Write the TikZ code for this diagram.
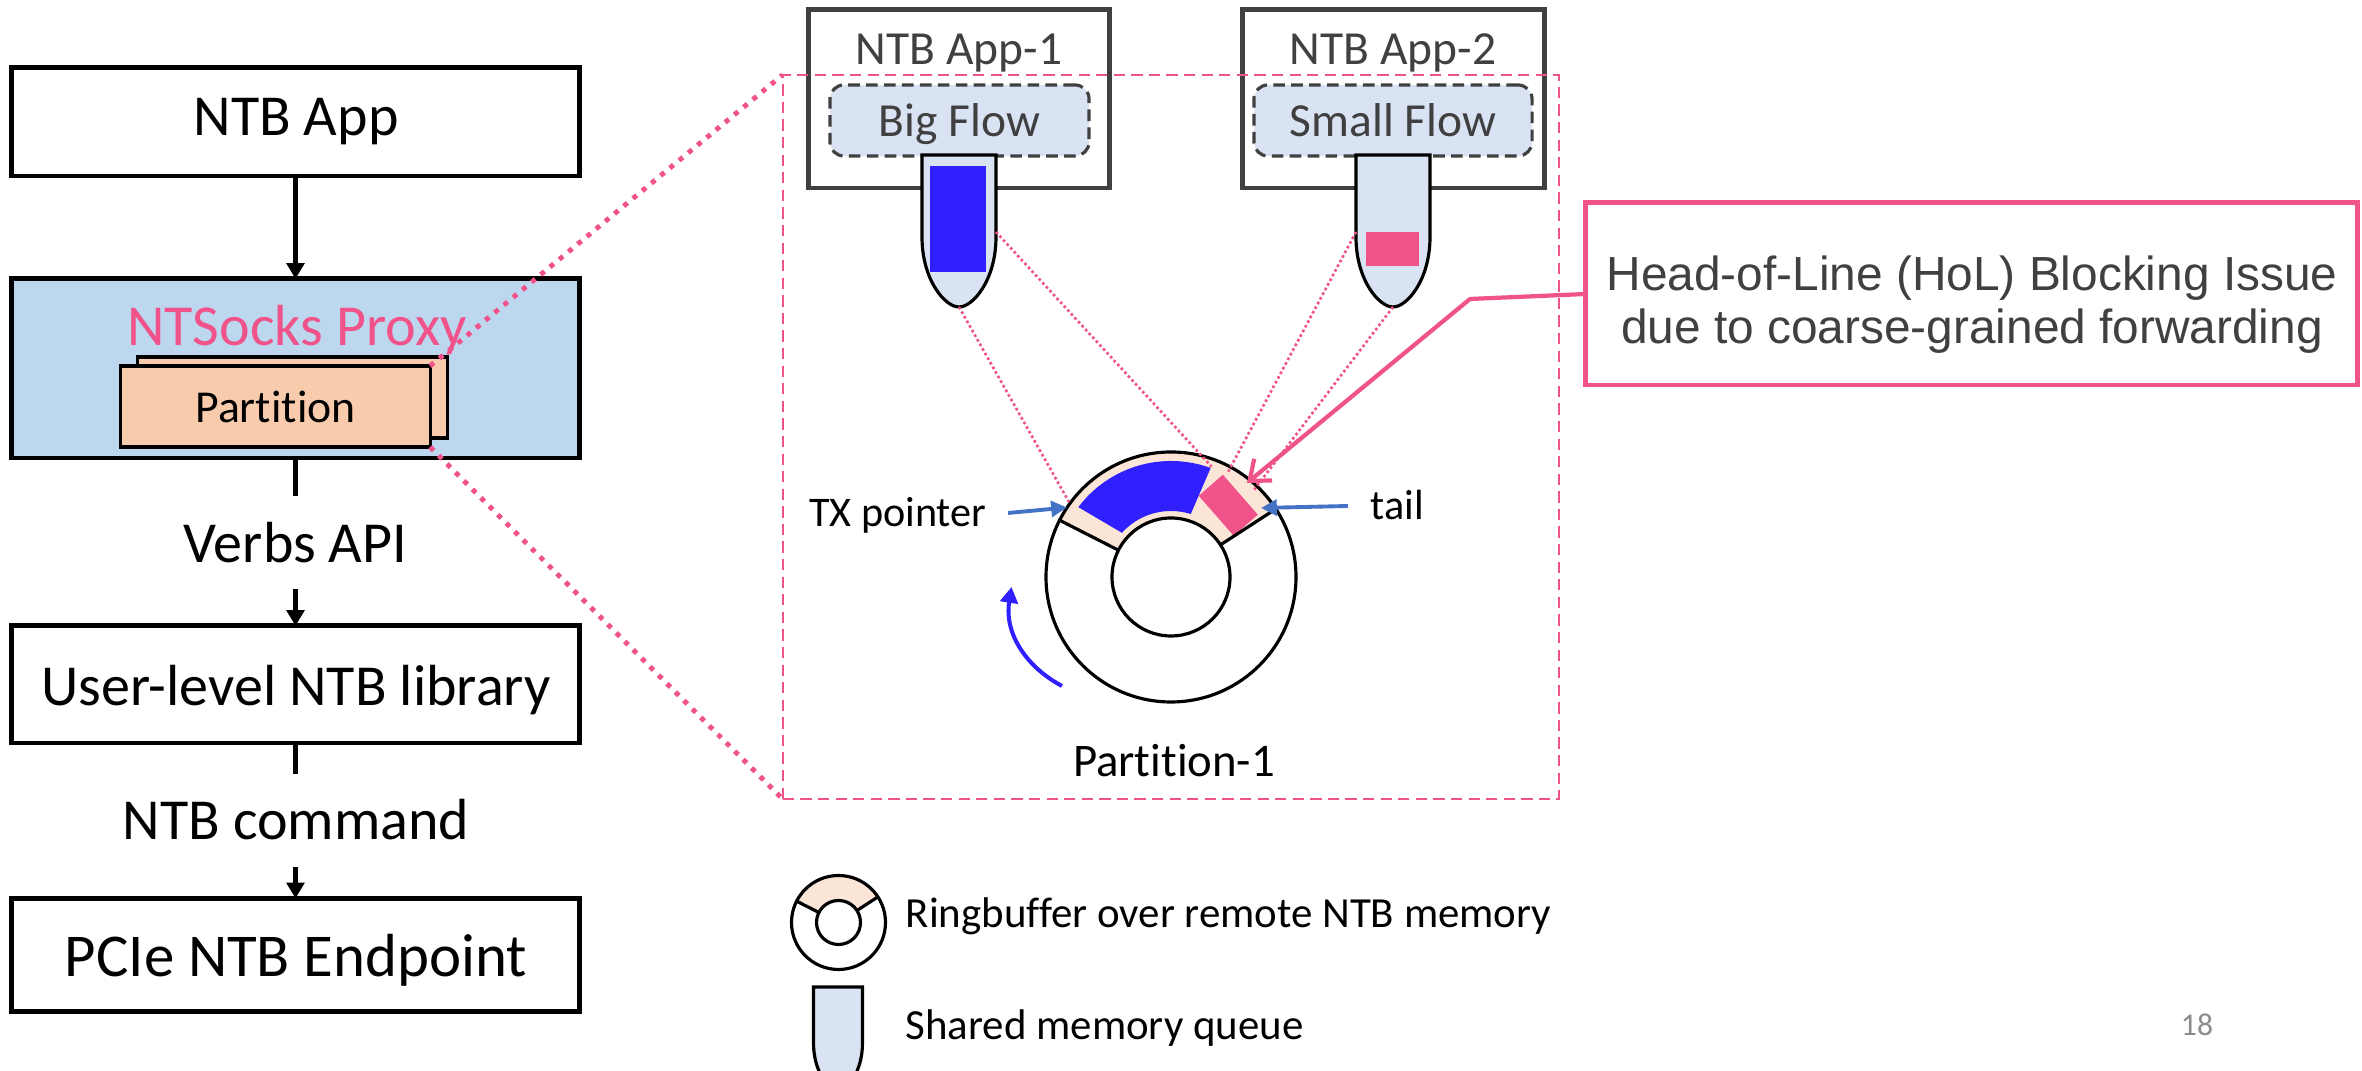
\documentclass[tikz,border=0pt]{standalone}
\usepackage{fontspec}
\setmainfont{Carlito}[Ligatures=NoCommon]
\newfontfamily\arialfont{Liberation Sans}
\usetikzlibrary{arrows.meta}

\definecolor{hotpink}{HTML}{F0528A}
\definecolor{proxyblue}{HTML}{BDD7EE}
\definecolor{partpeach}{HTML}{F8CBAD}
\definecolor{ringpeach}{HTML}{FBE5D6}
\definecolor{qfill}{HTML}{DAE3F3}
\definecolor{flowblue}{HTML}{3020FF}
\definecolor{ptrblue}{HTML}{4472C4}
\definecolor{dkgrey}{HTML}{404040}
\definecolor{pagegrey}{HTML}{8C8C8C}

\tikzset{
  memqueue/.pic={
    \draw[line width=0.9pt, fill=qfill]
      (-37,0) -- (-37,82) .. controls (-37,125) and (-14,152) .. (0,152)
      .. controls (14,152) and (37,125) .. (37,82) -- (37,0) -- cycle;
  }
}

\begin{document}
\begin{tikzpicture}[x=0.01cm, y=-0.01cm,
  layerbox/.style={draw=black, line width=1.4pt, minimum width=5.67cm, inner sep=0pt, outer sep=0pt},
  partbox/.style={draw=black, line width=0.9pt, fill=partpeach, minimum width=3.09cm, minimum height=0.81cm, inner sep=0pt, outer sep=0pt},
  appbox/.style={draw=dkgrey, line width=1.4pt, minimum height=1.78cm, inner sep=0pt, outer sep=0pt},
  flowbox/.style={draw=dkgrey, line width=0.9pt, dash pattern=on 3.3pt off 1.8pt, fill=qfill, rounded corners=4pt, minimum height=0.71cm, inner sep=0pt, outer sep=0pt},
  bigtext/.style={font=\fontsize{16.5}{19.8}\selectfont, inner sep=0pt, anchor=base},
  midtext/.style={font=\fontsize{13.5}{16.2}\selectfont, inner sep=0pt, anchor=base},
  smalltext/.style={font=\fontsize{12}{14.4}\selectfont, inner sep=0pt},
  legtext/.style={font=\fontsize{12.2}{14.6}\selectfont, inner sep=0pt, anchor=base west},
  conn/.style={line width=1.35pt, -{Triangle[width=5pt,length=4.5pt]}},
  plainconn/.style={line width=1.35pt},
  thickdots/.style={draw=hotpink, line width=1.4pt, dash pattern=on 1.4pt off 2pt},
  thindots/.style={draw=hotpink, line width=0.75pt, dash pattern=on 0.75pt off 0.75pt},
  ptr/.style={draw=ptrblue, line width=1.1pt, -{Triangle[width=4.5pt,length=4.5pt]}},
  ringline/.style={draw=black, line width=0.9pt},
]
\useasboundingbox (0,0) rectangle (2362,1071);

% ---------------- software stack ----------------
\node[layerbox, minimum height=1.08cm] (napp) at (295.5,122) {};
\node[layerbox, fill=proxyblue, minimum height=1.79cm] (proxy) at (295.5,368.5) {};
\node[layerbox, minimum height=1.17cm] (user) at (295.5,684.5) {};
\node[layerbox, minimum height=1.13cm] (pcie) at (295.5,955) {};

\node[bigtext] (tnapp) at (296,136) {NTB App};
\node[bigtext, text=hotpink] (tproxy) at (297,346) {NTSocks Proxy};
\node[partbox] (partb) at (292.5,397.5) {};
\node[partbox] (partf) at (275.5,406.5) {};
\node[font=\fontsize{13}{15.6}\selectfont, inner sep=0pt, anchor=base] (tpart) at (275.5,423) {Partition};
\node[bigtext] (tverbs) at (295.5,563) {Verbs API};
\node[bigtext] (tuser) at (296,706) {User-level NTB library};
\node[bigtext] (tcmd) at (296,840) {NTB command};
\node[bigtext, font=\fontsize{17.3}{20.8}\selectfont] (tpcie) at (296,977) {PCIe NTB Endpoint};

\coordinate (vtop) at (295.5,496);
\coordinate (vbot) at (295.5,589);
\coordinate (ctop) at (295.5,774);
\coordinate (cbot) at (295.5,867);
\draw[conn] (napp.south) -- (proxy.north);
\draw[plainconn] (proxy.south) -- (vtop);
\draw[conn] (vbot) -- (user.north);
\draw[plainconn] (user.south) -- (ctop);
\draw[conn] (cbot) -- (pcie.north);

% ---------------- applications and queues ----------------
\node[appbox, minimum width=3.00cm] (app1) at (959,99) {};
\node[appbox, minimum width=3.01cm] (app2) at (1393.5,99) {};
\node[midtext, text=dkgrey] (tapp1) at (959,65) {NTB App-1};
\node[midtext, text=dkgrey] (tapp2) at (1393,65) {NTB App-2};
\node[flowbox, minimum width=2.59cm] (bigflow) at (959.5,120.5) {};
\node[flowbox, minimum width=2.78cm] (smallflow) at (1393,120.5) {};
\node[midtext, text=dkgrey] (tbig) at (959.5,137) {Big Flow};
\node[midtext, text=dkgrey] (tsmall) at (1393,137) {Small Flow};

\pic at (959,155) {memqueue};
\pic at (1393,155) {memqueue};
\fill[flowblue] (930,166) rectangle (986,272);
\fill[hotpink] (1366,232) rectangle (1419,266);

% zoomed partition frame
\node[draw=hotpink, line width=0.7pt, dash pattern=on 3.2pt off 1.8pt, minimum width=7.755cm, minimum height=7.24cm, inner sep=0pt, outer sep=0pt] (zoombox) at (1170.75,437) {};

\draw[thickdots] (partf.north east) -- (zoombox.north west);
\draw[thickdots] (partf.south east) -- (zoombox.south west);

% ---------------- ring buffer ----------------
\begin{scope}[shift={(1171,577)}, yscale=-1]
  \fill[white] (0,0) circle[radius=125];
  \fill[ringpeach] (33:59) -- (33:125) arc[start angle=33, end angle=153, radius=125]
    -- (153:59) arc[start angle=153, end angle=33, radius=59] -- cycle;
  \fill[flowblue] (143:116) arc[start angle=143, end angle=70, radius=116]
    -- (72.6:66) arc[start angle=72.6, end angle=138, radius=66] -- cycle;
  \begin{scope}[shift={(51.4:91.8)}, rotate=48.8]
    \fill[hotpink] (-26.5,-16) rectangle (26.5,16);
  \end{scope}
  \draw[ringline] (33:59) -- (33:125);
  \draw[ringline] (153:59) -- (153:125);
  \draw[ringline, fill=white] (0,0) circle[radius=59];
  \draw[ringline] (0,0) circle[radius=125];
\end{scope}

\node[smalltext, anchor=base east] (ttx) at (987,527) {TX pointer};
\node[smalltext, anchor=base west] (ttail) at (1370,520) {tail};
\node[font=\fontsize{13.3}{16}\selectfont, inner sep=0pt, anchor=base] (tpart1) at (1174,777) {Partition-1};

\coordinate (txfrom) at (1008,513);
\coordinate (txtip) at (1067,507.5);
\coordinate (tailfrom) at (1348,506);
\coordinate (tailtip) at (1261,508);
\draw[ptr] (txfrom) -- (txtip);
\draw[ptr] (tailfrom) -- (tailtip);

\coordinate (rotfrom) at (1062,686);
\coordinate (rotto) at (1011.5,587);
\draw[draw=flowblue, line width=1.15pt, -{Triangle[width=5pt,length=4.5pt]}]
  (rotfrom) .. controls (1028,668) and (1004,635) .. (rotto);

% queue-to-ring forwarding
\coordinate (q1tip) at (959,307);
\coordinate (q1side) at (996,232);
\coordinate (q2side) at (1356,232);
\coordinate (q2tip) at (1393,307);
\coordinate (r1) at (1069,502);
\coordinate (r2) at (1211.7,466.7);
\coordinate (r3) at (1227,474);
\coordinate (r4) at (1254,490);
\draw[thindots] (q1tip) -- (r1);
\draw[thindots] (q1side) -- (r2);
\draw[thindots] (q2side) -- (r3);
\draw[thindots] (q2tip) -- (r4);

% ---------------- callout ----------------
\node[draw=hotpink, line width=1.4pt, fill=white, minimum width=7.71cm, minimum height=1.82cm, inner sep=0pt, outer sep=0pt] (callout) at (1971.5,294) {};
\node[align=center, text=dkgrey, inner sep=0pt, font=\arialfont\fontsize{13.6}{14.9}\selectfont] (tcallout) at (1972,304.5)
  {Head-of-Line (HoL) Blocking Issue\\due to coarse-grained forwarding};
\coordinate (bend) at (1470,299);
\coordinate (holtip) at (1247,483);
\draw[draw=hotpink, line width=1.2pt, line join=round, -{Straight Barb[length=5pt,width=8pt]}]
  (callout.west) -- (bend) -- (holtip);

% ---------------- legend ----------------
\begin{scope}[shift={(838.5,922.5)}, yscale=-1]
  \fill[white] (0,0) circle[radius=47];
  \fill[ringpeach] (33:22) -- (33:47) arc[start angle=33, end angle=153, radius=47]
    -- (153:22) arc[start angle=153, end angle=33, radius=22] -- cycle;
  \draw[ringline] (33:22) -- (33:47);
  \draw[ringline] (153:22) -- (153:47);
  \draw[ringline, fill=white] (0,0) circle[radius=22];
  \draw[ringline] (0,0) circle[radius=47];
\end{scope}
\pic[xscale=0.662, yscale=0.68] at (838,987) {memqueue};
\node[legtext] (tleg1) at (905,928) {Ringbuffer over remote NTB memory};
\node[legtext] (tleg2) at (905,1040) {Shared memory queue};

\node[font=\fontsize{9}{10.8}\selectfont, text=pagegrey, inner sep=0pt, anchor=base] (pageno) at (2197,1036) {18};
\end{tikzpicture}
\end{document}
